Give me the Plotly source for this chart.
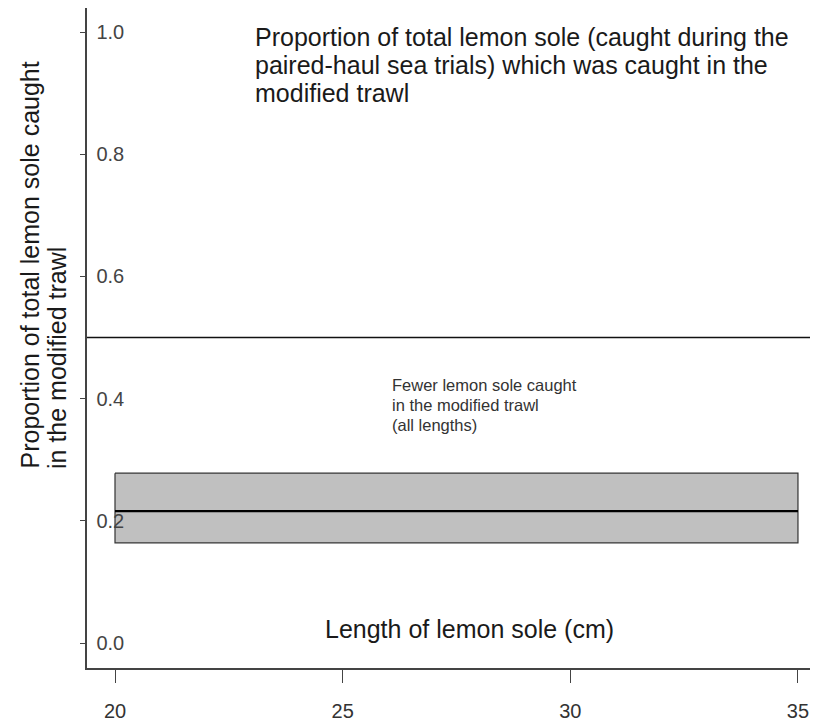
import plotly.graph_objects as go

# Data
length_cm = [20, 35]
estimate = [0.216, 0.216]
lower = [0.164, 0.164]
upper = [0.278, 0.278]
reference_level = 0.5
x_ticks = [20, 25, 30, 35]
y_ticks = [0.0, 0.2, 0.4, 0.6, 0.8, 1.0]
y_tick_text = ["0.0", "0.2", "0.4", "0.6", "0.8", "1.0"]
title_lines = ["Proportion of total lemon sole (caught during the",
               "paired-haul sea trials) which was caught in the",
               "modified trawl"]
note_lines = ["Fewer lemon sole caught", "in the modified trawl", "(all lengths)"]
x_label = "Length of lemon sole (cm)"
y_label_lines = ["Proportion of total lemon sole caught", "in the modified trawl"]

FONT = "Liberation Sans, Arial, sans-serif"
OFF = 8  # page body margin
W, H = 818 - OFF, 722 - OFF
ML, MR, MT, MB = 87 - OFF, 0, 0, 54
PW, PH = W - ML - MR, H - MT - MB


def px(s):
    return (s - OFF - ML) / PW


def py(s):
    return (H - MB - (s - OFF)) / PH


fig = go.Figure()

band_x = length_cm + length_cm[::-1] + [length_cm[0]]
band_y = upper + lower[::-1] + [upper[0]]
fig.add_trace(go.Scatter(
    x=band_x, y=band_y, mode="lines", fill="toself",
    fillcolor="#c0c0c0", line=dict(color="#333333", width=1.2),
    hoverinfo="skip", showlegend=False))

fig.add_trace(go.Scatter(
    x=length_cm, y=estimate, mode="lines",
    line=dict(color="#000000", width=2.2), showlegend=False))

fig.add_hline(y=reference_level, line=dict(color="#111111", width=1.3))

fig.update_xaxes(
    range=[19.385, 35.44], tickvals=x_ticks, ticks="outside", ticklen=13,
    tickcolor="#444444", tickwidth=1.3, automargin=False,
    ticklabelstandoff=11,
    showline=True, linecolor="#444444", linewidth=1.5, mirror="ticks",
    showgrid=False, zeroline=False,
    tickfont=dict(family=FONT, size=20, color="#333333"))
fig.update_yaxes(
    range=[-0.0409, 1.0393], tickvals=y_ticks, ticktext=y_tick_text,
    ticks="outside", ticklen=5, tickcolor="#444444", tickwidth=1.3,
    ticklabelposition="outside", ticklabelstandoff=-48, automargin=False,
    showline=True, linecolor="#444444", linewidth=1.5,
    showgrid=False, zeroline=False,
    tickfont=dict(family=FONT, size=20, color="#444444"))

for i, line in enumerate(title_lines):
    fig.add_annotation(
        xref="paper", yref="paper", x=px(253), y=py(37 + 28 * i),
        xanchor="left", yanchor="middle", showarrow=False, text=line,
        font=dict(family=FONT, size=25, color="#1a1a1a"))

for i, line in enumerate(note_lines):
    fig.add_annotation(
        xref="paper", yref="paper", x=px(390), y=py(385 + 20 * i),
        xanchor="left", yanchor="middle", showarrow=False, text=line,
        font=dict(family=FONT, size=16.5, color="#333333"))

fig.add_annotation(
    xref="paper", yref="paper", x=px(470), y=py(629),
    xanchor="center", yanchor="middle", showarrow=False, text=x_label,
    font=dict(family=FONT, size=25, color="#1a1a1a"))

for i, line in enumerate(y_label_lines):
    fig.add_annotation(
        xref="paper", yref="paper", x=px(29 + 28 * i), y=py(471),
        xanchor="center", yanchor="bottom", textangle=-90, showarrow=False,
        text=line, font=dict(family=FONT, size=25, color="#1a1a1a"))

fig.update_layout(
    width=W, height=H,
    margin=dict(l=ML, r=MR, t=MT, b=MB, autoexpand=False),
    paper_bgcolor="white", plot_bgcolor="white",
    showlegend=False)

fig.write_html("out.html")
